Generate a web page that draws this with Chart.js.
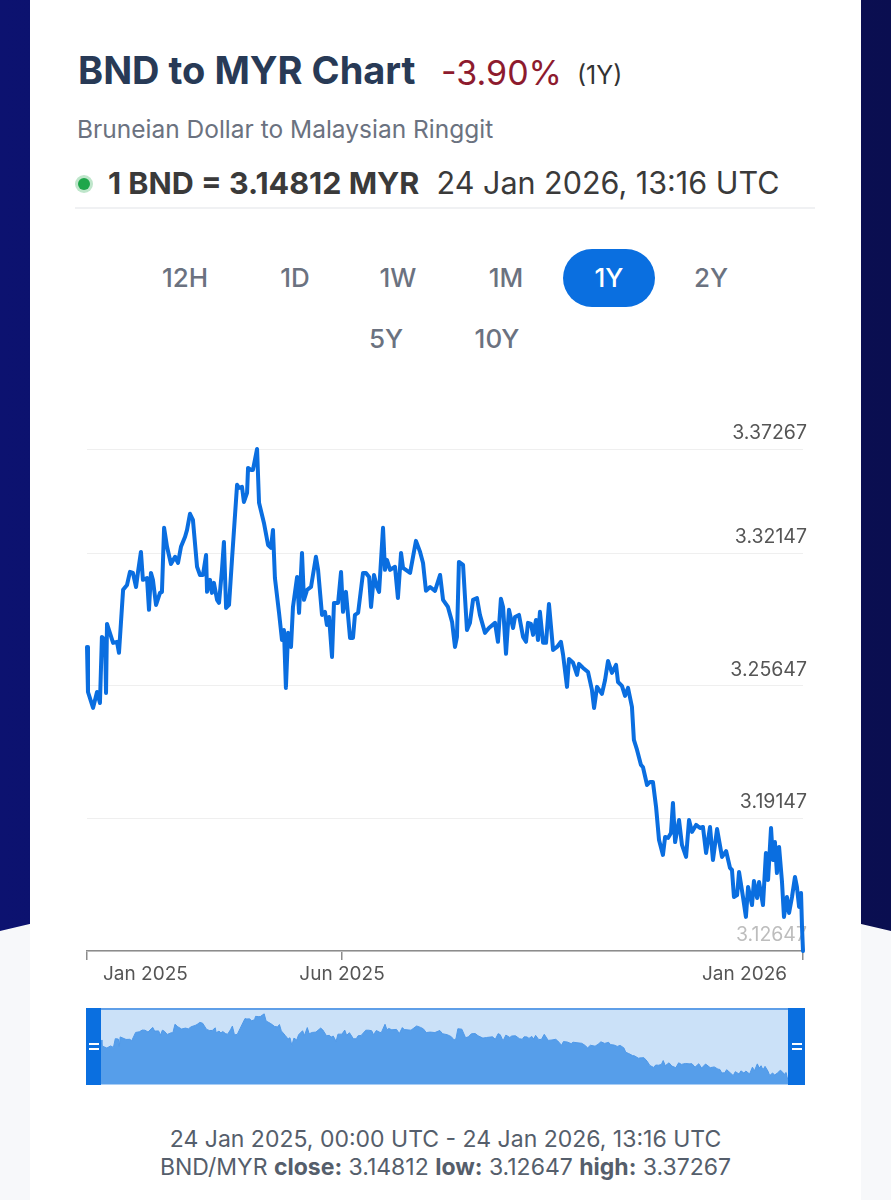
<!DOCTYPE html>
<html><head><meta charset="utf-8">
<script src="https://cdn.jsdelivr.net/npm/chart.js@4.4.1/dist/chart.umd.min.js"></script>
<style>
html,body{margin:0;padding:0;}
body{width:891px;height:1200px;position:relative;overflow:hidden;background:#f7f8fa;font-family:Inter,"Noto Sans",sans-serif;}
#navy{position:absolute;left:0;top:0;width:891px;height:940px;background:linear-gradient(90deg,#0c1270,#0a0e50);clip-path:polygon(0 0,891px 0,891px 931px,445px 826px,0 931px);}
#card{position:absolute;left:30px;top:0;width:831px;height:1200px;background:#fff;}
.t{position:absolute;white-space:nowrap;line-height:1;}
.btn{position:absolute;width:92px;height:58px;line-height:58px;text-align:center;font-size:26px;font-weight:500;color:#6b7280;border-radius:29px;}
.btn.on{background:#0a6fe0;color:#fff;}
#sep{position:absolute;left:75px;top:207px;width:740px;height:2px;background:#f0f1f3;}
#dot{position:absolute;left:75px;top:175px;width:18px;height:18px;border-radius:50%;background:#bfe6cb;}
#dot::after{content:"";position:absolute;left:3px;top:3px;width:12px;height:12px;border-radius:50%;background:#1ea64a;}
#navbg{position:absolute;left:86px;top:1008px;width:719px;height:77px;background:#cbe1f8;box-sizing:border-box;border-top:2px solid #5f9fe8;border-bottom:2px solid #a9cdf4;}
.hdl{position:absolute;top:1008px;height:77px;background:#0a6fe0;}
.hdl i{position:absolute;left:50%;width:10px;height:2px;margin-left:-5px;background:#fff;}
#main{position:absolute;left:30px;top:400px;}
#nav{position:absolute;left:101px;top:1010px;}
</style></head><body>
<div id="navy"></div>
<div id="card"></div>
<div class="t" style="left:78px;top:51px;font-size:38px;font-weight:700;color:#283a56;">BND to MYR Chart</div>
<div class="t" style="left:441px;top:56px;font-size:34px;color:#8d1b2e;">-3.90%</div>
<div class="t" style="left:577px;top:63px;font-size:25px;color:#333;">(1Y)</div>
<div class="t" style="left:77px;top:117px;font-size:24.5px;color:#6b7280;">Bruneian Dollar to Malaysian Ringgit</div>
<div id="dot"></div>
<div class="t" style="left:108px;top:168px;font-size:30.5px;color:#3a3a3a;"><b>1 BND = 3.14812 MYR</b>&nbsp; 24 Jan 2026, 13:16 UTC</div>
<div id="sep"></div>
<div class="btn" style="left:139px;top:249px;">12H</div>
<div class="btn" style="left:249px;top:249px;">1D</div>
<div class="btn" style="left:352px;top:249px;">1W</div>
<div class="btn" style="left:460px;top:249px;">1M</div>
<div class="btn on" style="left:563px;top:249px;">1Y</div>
<div class="btn" style="left:665px;top:249px;">2Y</div>
<div class="btn" style="left:340px;top:310px;">5Y</div>
<div class="btn" style="left:451px;top:310px;">10Y</div>
<canvas id="main" width="831" height="600"></canvas>
<div id="navbg"></div>
<canvas id="nav" width="687" height="74"></canvas>
<div class="hdl" style="left:86px;width:15px;"><i style="top:35px"></i><i style="top:40px"></i></div>
<div class="hdl" style="left:788px;width:17px;"><i style="top:35px"></i><i style="top:40px"></i></div>
<div class="t" style="left:0;width:891px;text-align:center;top:1128px;font-size:23px;color:#555e6b;">24 Jan 2025, 00:00 UTC - 24 Jan 2026, 13:16 UTC</div>
<div class="t" style="left:0;width:891px;text-align:center;top:1156px;font-size:23px;color:#555e6b;">BND/MYR <b>close:</b> 3.14812 <b>low:</b> 3.12647 <b>high:</b> 3.37267</div>
<script>
// days since 24 Jan 2025
const days = [0,0.5,3.1,5.1,6.6,7.6,9.2,9.7,10.2,13.3,15.3,16.3,18.4,20.4,21.9,23.4,25.0,26.0,27.5,28.5,30.6,31.6,32.6,33.6,35.2,37.2,38.2,39.3,40.8,42.8,44.9,46.4,47.9,50.0,51.0,52.5,54.0,56.1,57.6,59.1,60.7,61.2,62.7,63.7,64.7,66.3,67.3,68.8,69.8,70.9,72.4,73.9,76.5,77.5,79.0,80.0,81.6,82.1,83.6,84.6,86.7,87.7,90.2,92.3,93.8,94.8,95.8,97.9,99.4,100.4,101.4,102.5,104.0,105.0,107.1,108.1,109.6,110.6,112.2,114.2,116.7,117.8,119.8,121.3,122.3,123.4,124.9,125.9,128.0,129.5,130.5,132.0,134.1,135.6,136.6,138.2,140.7,142.2,143.8,144.8,146.3,147.8,148.9,150.9,151.9,152.9,154.5,157.0,158.5,160.1,161.1,164.7,166.2,167.7,169.8,171.3,172.8,174.9,177.4,180.0,181.5,184.0,186.1,187.6,188.6,189.6,191.7,193.7,195.2,196.8,198.8,200.3,202.9,204.9,208.0,209.5,211.0,212.1,213.6,215.1,217.2,218.2,220.2,222.3,223.8,224.8,226.3,227.4,228.9,229.9,230.9,232.5,234.0,235.5,237.6,239.6,241.6,242.7,244.7,245.7,247.8,249.8,250.8,252.9,255.4,257.4,258.5,260.0,262.5,264.1,265.6,267.6,269.7,270.7,272.7,274.3,275.8,277.8,278.8,280.4,282.4,283.4,285.5,287.0,288.5,290.1,291.6,293.6,294.7,296.2,297.7,298.7,299.8,301.8,303.3,305.4,306.9,308.4,310.5,312.5,314.0,315.6,317.6,319.1,321.2,323.7,325.8,327.8,328.8,329.8,331.4,332.4,334.4,335.9,337.0,339.0,340.0,341.6,342.6,344.6,346.1,347.2,348.7,349.7,350.7,351.7,352.8,354.3,355.3,356.8,357.9,359.4,360.9,361.9,363.0,364.0,364.5,365];
const rates = [3.2756,3.2535,3.2457,3.2535,3.2481,3.2805,3.2790,3.2530,3.2869,3.2776,3.2781,3.2727,3.3036,3.3060,3.3124,3.3119,3.3050,3.3124,3.3222,3.3085,3.3094,3.2938,3.3119,3.3085,3.2962,3.3021,3.3026,3.3340,3.3247,3.3163,3.3198,3.3168,3.3247,3.3296,3.3330,3.3409,3.3379,3.3149,3.3109,3.3109,3.3207,3.3026,3.3085,3.3021,3.3070,3.2987,3.2972,3.3134,3.3271,3.2947,3.2962,3.3183,3.3551,3.3536,3.3541,3.3467,3.3512,3.3634,3.3624,3.3624,3.37267,3.3463,3.3364,3.3256,3.3242,3.3330,3.3094,3.2923,3.2790,3.2839,3.2555,3.2825,3.2756,3.2952,3.3099,3.2923,3.3217,3.2987,3.3036,3.3050,3.3198,3.3134,3.2913,3.2928,3.2864,3.2903,3.2707,3.2972,3.2972,3.3124,3.2928,3.3026,3.2800,3.2800,3.2913,3.2923,3.3119,3.3119,3.3099,3.2952,3.3109,3.3050,3.3026,3.3340,3.3134,3.3183,3.3134,3.3149,3.2996,3.3217,3.3144,3.3119,3.3198,3.3276,3.3222,3.3168,3.3031,3.3050,3.3031,3.3109,3.2987,3.2952,3.2879,3.2756,3.2805,3.3173,3.3158,3.2839,3.2874,3.2987,3.2996,3.2913,3.2825,3.2849,3.2874,3.2781,3.2992,3.2952,3.2722,3.2938,3.2849,3.2903,3.2913,3.2805,3.2781,3.2874,3.2869,3.2815,3.2888,3.2790,3.2928,3.2776,3.2776,3.2967,3.2741,3.2756,3.2781,3.2717,3.2560,3.2697,3.2678,3.2619,3.2673,3.2653,3.2633,3.2545,3.2457,3.2560,3.2526,3.2594,3.2687,3.2629,3.2668,3.2584,3.2565,3.2516,3.2555,3.2462,3.2300,3.2251,3.2177,3.2167,3.2079,3.2094,3.2094,3.1971,3.1809,3.1736,3.1824,3.1819,3.1844,3.1991,3.1799,3.1907,3.1785,3.1726,3.1907,3.1849,3.1883,3.1868,3.1873,3.1745,3.1873,3.1711,3.1863,3.1726,3.1755,3.1672,3.1662,3.1530,3.1539,3.1652,3.1530,3.1432,3.1579,3.1490,3.1608,3.1525,3.1603,3.1490,3.1745,3.1613,3.1868,3.1711,3.1799,3.1647,3.1775,3.1603,3.1432,3.1530,3.1451,3.1530,3.1628,3.1579,3.1481,3.1549,3.1382,3.12647];
const yTicks = [3.12647, 3.19147, 3.25647, 3.32147, 3.37267];
const xTickDays = [0, 130, 365];
const xTickLabels = ['Jan 2025', 'Jun 2025', 'Jan 2026'];

const points = [];
for (let i = 0; i < Math.min(days.length, rates.length); i++) points.push({x: days[i], y: rates[i]});

const xLabelPlugin = {
  id: 'xLabels',
  afterDraw(chart) {
    const s = chart.scales.x, ctx = chart.ctx;
    ctx.save();
    ctx.font = '19px Inter, "Noto Sans", sans-serif';
    ctx.fillStyle = '#555';
    ctx.textBaseline = 'middle';
    xTickDays.forEach((d, i) => {
      const px = s.getPixelForValue(d);
      let x = px, align = 'center';
      if (i === 0) { align = 'left'; x = px + 16; }
      else if (i === xTickDays.length - 1) { align = 'right'; x = px - 16; }
      ctx.textAlign = align;
      ctx.fillText(xTickLabels[i], x, s.top + 23);
    });
    ctx.restore();
  }
};

new Chart(document.getElementById('main'), {
  type: 'line',
  data: { datasets: [{ data: points, borderColor: '#0a6ee0', borderWidth: 4, pointRadius: 0, tension: 0, borderJoinStyle: 'round', borderCapStyle: 'round', clip: 6, fill: false }] },
  options: {
    responsive: false, animation: false, devicePixelRatio: 1,
    layout: { padding: { left: 57, right: 58, top: 49, bottom: 0 } },
    plugins: { legend: { display: false }, tooltip: { enabled: false } },
    scales: {
      x: {
        type: 'linear', min: 0, max: 365,
        afterBuildTicks: s => { s.ticks = xTickDays.map(v => ({ value: v })); },
        afterFit: s => { s.height = 49; },
        border: { display: true, color: '#8c8c8c', width: 1.5 },
        grid: { drawOnChartArea: false, drawTicks: true, tickLength: 9, color: '#8c8c8c', lineWidth: 1.5 },
        ticks: { display: false }
      },
      y: {
        position: 'right', min: yTicks[0], max: yTicks[yTicks.length - 1],
        afterBuildTicks: s => { s.ticks = yTicks.map(v => ({ value: v })); },
        afterFit: s => { s.width = 0; },
        border: { display: false },
        grid: { color: '#efefef', drawTicks: false, lineWidth: 1 },
        ticks: { mirror: true, padding: 4, labelOffset: -16, color: c => c.index === 0 ? '#bdbdbd' : '#555',
                 font: { family: 'Inter', size: 19.5 }, callback: v => Number(v).toFixed(5) }
      }
    }
  },
  plugins: [xLabelPlugin]
});

new Chart(document.getElementById('nav'), {
  type: 'line',
  data: { datasets: [{ data: points, borderColor: '#4f98e8', borderWidth: 1, backgroundColor: '#569eea', fill: 'start', pointRadius: 0, tension: 0 }] },
  options: {
    responsive: false, animation: false, devicePixelRatio: 1,
    layout: { padding: 0 },
    plugins: { legend: { display: false }, tooltip: { enabled: false } },
    scales: {
      x: { type: 'linear', min: 0, max: 365, display: false },
      y: { min: 3.112, max: 3.387, display: false }
    }
  }
});
</script>
</body></html>
